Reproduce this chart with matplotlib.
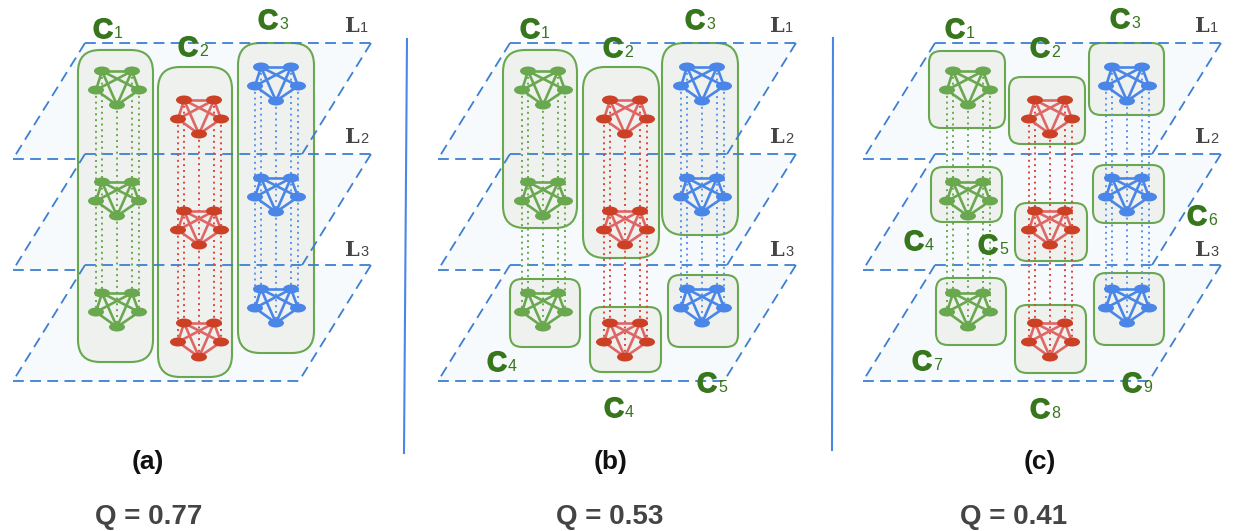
import matplotlib
matplotlib.use('Agg')
import matplotlib.pyplot as plt
import matplotlib.patheffects as pe
from matplotlib.patches import Polygon, FancyBboxPatch, Ellipse

# ---------------- data ----------------
panel_tags = ['(a)', '(b)', '(c)']
modularity_q = [0.77, 0.53, 0.41]
layer_names = ['1', '2', '3']
group_names = ['green', 'red', 'blue']
# community membership: (group index, first layer, last layer)
communities_a = [(0, 0, 2), (1, 0, 2), (2, 0, 2)]
communities_b = [(0, 0, 1), (1, 0, 1), (2, 0, 1), (0, 2, 2), (1, 2, 2), (2, 2, 2)]
communities_c = [(0, 0, 0), (1, 0, 0), (2, 0, 0), (0, 1, 1), (1, 1, 1), (2, 1, 1),
                 (0, 2, 2), (1, 2, 2), (2, 2, 2)]
labels_a = ['1', '2', '3']
labels_b = ['1', '2', '3', '4', '5', '4']
labels_c = ['1', '2', '3', '4', '5', '6', '7', '8', '9']

# ---------------- layout (pixels) ----------------
W, H = 1234, 531
PANEL_X = [0, 425, 850]
PLANE_TOP = [43, 154, 265]
PLANE_H = 116
PLANE_X0 = 85
PLANE_W = 286
SHEAR = 72
NET_CX = [117, 199, 276]
NET_TOP = [[71, 182, 293], [100, 211, 323], [67, 178, 289]]
NODE_OFF = [(-15, 0), (15, 0), (-21, 19), (22, 19), (0, 34)]
EDGES = [(0, 1), (0, 2), (0, 3), (0, 4), (1, 2), (1, 3), (1, 4), (2, 4), (3, 4)]
BLOBS = [
    [(78, 153, 50, 362), (158, 232, 67, 377), (238, 314, 43, 353)],
    [(78, 152, 50, 228), (158, 234, 67, 258), (237, 313, 43, 235),
     (85, 155, 279, 347), (165, 236, 307, 372), (243, 313, 275, 347)],
    [(79, 155, 51, 128), (159, 235, 77, 144), (239, 314, 43, 115),
     (81, 152, 167, 222), (165, 237, 203, 261), (243, 314, 165, 223),
     (86, 156, 278, 345), (165, 236, 305, 373), (244, 314, 273, 345)],
]
LABEL_POS = [
    [(93, 38), (178, 56), (258, 29)],
    [(95, 38), (178, 57), (260, 29), (62, 371), (272, 392), (179, 417)],
    [(95, 38), (180, 57), (260, 28), (54, 250), (128, 254), (337, 225),
     (62, 370), (180, 418), (272, 392)],
]
L_LABEL = (345, [32, 143, 256])
TAG_X = [148, 611, 1040]
Q_X = [149, 610, 1014]

NODE_COL = ['#6aa84f', '#cc4125', '#4a86e8']
EDGE_COL = ['#6aa84f', '#e06666', '#4a86e8']
DOT_COL = ['#6aa84f', '#e0463a', '#5b93ea']
PLANE_EDGE = '#3d7fd0'
PLANE_FILL = '#f7fafd'
BLOB_EDGE = '#6aa84f'
BLOB_FILL = '#eef1ee'
TEXT_GREEN = '#38761d'

fig = plt.figure(figsize=(W / 100, H / 100), dpi=100)
ax = fig.add_axes([0, 0, 1, 1])
ax.set_xlim(0, W)
ax.set_ylim(H, 0)
ax.axis('off')

communities = [communities_a, communities_b, communities_c]
labels = [labels_a, labels_b, labels_c]
thick = [pe.withStroke(linewidth=1.0, foreground=TEXT_GREEN)]

for p in range(3):
    ox = PANEL_X[p]
    # planes
    for k, yt in enumerate(PLANE_TOP):
        x0 = ox + PLANE_X0
        tl = (x0, yt)
        tr = (x0 + PLANE_W, yt)
        br = (x0 + PLANE_W - SHEAR, yt + PLANE_H)
        bl = (x0 - SHEAR, yt + PLANE_H)
        ax.add_patch(Polygon([tl, tr, br, bl], closed=True, facecolor=PLANE_FILL,
                             edgecolor='none', zorder=1))
        dash = dict(color=PLANE_EDGE, lw=1.3, linestyle=(0, (6, 3.5)), zorder=3)
        ax.plot([tl[0], tr[0]], [yt, yt], **dash)
        ax.plot([tl[0], bl[0]], [yt, bl[1]], **dash)
        if k < len(PLANE_TOP) - 1:
            ynext = PLANE_TOP[k + 1]
            t = (ynext - yt) / PLANE_H
            ax.plot([tr[0], tr[0] - SHEAR * t], [yt, ynext], **dash)
            xcut = x0 - SHEAR * (yt + PLANE_H - ynext) / PLANE_H
            ax.plot([bl[0], xcut], [bl[1], bl[1]], **dash)
        else:
            ax.plot([tr[0], br[0]], [yt, br[1]], **dash)
            ax.plot([bl[0], br[0]], [bl[1], br[1]], **dash)

    # community blobs
    for (g, l0, l1), (bx0, bx1, by0, by1) in zip(communities[p], BLOBS[p]):
        hgt = by1 - by0
        r = 22 if hgt > 150 else 12
        patch = FancyBboxPatch((ox + bx0, by0), bx1 - bx0, hgt,
                               boxstyle=f'round,pad=0,rounding_size={r}',
                               facecolor=BLOB_FILL, edgecolor=BLOB_EDGE, lw=1.5, zorder=2)
        ax.add_patch(patch)

    # community labels
    for lab, (lx, ly) in zip(labels[p], LABEL_POS[p]):
        ax.text(ox + lx, ly, 'C', fontsize=20, fontweight='bold', color=TEXT_GREEN,
                family='Liberation Sans', va='baseline', ha='left', zorder=8,
                path_effects=thick)
        ax.text(ox + lx + 21, ly, lab, fontsize=11.5, color=TEXT_GREEN,
                family='Liberation Sans', va='baseline', ha='left', zorder=8)

    # layer labels
    for name, ly in zip(layer_names, L_LABEL[1]):
        ax.text(ox + L_LABEL[0], ly, 'L', fontsize=15, fontweight='bold', color='#444444',
                family='DejaVu Serif', va='baseline', ha='left', zorder=8)
        ax.text(ox + L_LABEL[0] + 15, ly, name, fontsize=10.5, color='#444444',
                family='Liberation Sans', va='baseline', ha='left', zorder=8)

    # networks
    for g in range(3):
        cx = ox + (NET_CX[g] + (1 if p else 0))
        tops = NET_TOP[g]
        # inter-layer dotted links
        for dx, dy in NODE_OFF:
            ax.plot([cx + dx, cx + dx], [tops[0] + dy, tops[-1] + dy], color=DOT_COL[g],
                    lw=1.4, linestyle=(0, (1, 2)), zorder=4)
        for yt in tops:
            pts = [(cx + dx, yt + dy) for dx, dy in NODE_OFF]
            for a, b in EDGES:
                ax.plot([pts[a][0], pts[b][0]], [pts[a][1], pts[b][1]],
                        color=EDGE_COL[g], lw=1.9, zorder=5, solid_capstyle='round')
            for (x, y) in pts:
                ax.add_patch(Ellipse((x, y), 16, 9, facecolor=NODE_COL[g],
                                     edgecolor='none', zorder=6))

    # panel tag and modularity
    ax.text(TAG_X[p], 462, panel_tags[p], fontsize=19, fontweight='bold', color='#111111',
            family='Liberation Sans', ha='center', va='center')
    ax.text(Q_X[p], 517, f'Q = {modularity_q[p]:.2f}', fontsize=20, fontweight='bold',
            color='#444444', family='Liberation Sans', ha='center', va='center')

# vertical separators
ax.plot([407, 404], [39, 453], color='#4a86e8', lw=1.5, zorder=3)
ax.plot([833, 832], [38, 450], color='#4a86e8', lw=1.5, zorder=3)

fig.savefig('out.png', dpi=100)
